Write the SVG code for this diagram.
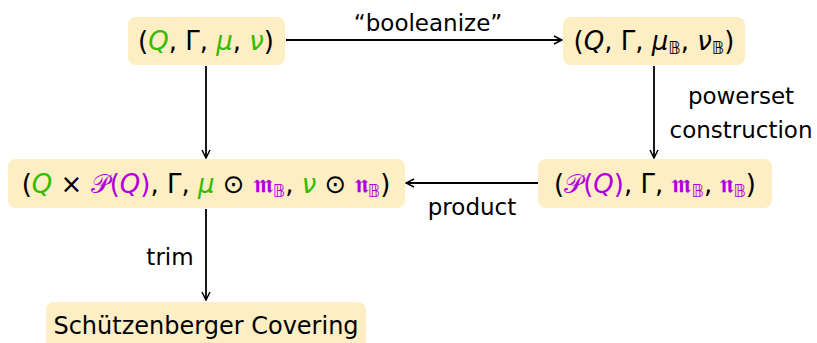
<svg xmlns="http://www.w3.org/2000/svg" width="817" height="343" viewBox="0 0 817 343">
<defs>
<marker id="arr" viewBox="0 0 10 10" refX="9" refY="5" markerWidth="10" markerHeight="10" markerUnits="userSpaceOnUse" orient="auto">
<path d="M1,1 L9,5 L1,9" fill="none" stroke="#000" stroke-width="1.5"/>
</marker>
</defs>
<style>
.box{fill:#fdeec4;}
.m{font-family:"DejaVu Sans","Liberation Sans",sans-serif;font-size:26px;fill:#000;}
.i{font-style:italic;}
.g{fill:#33bb00;}
.p{fill:#b000e0;}
.s{font-family:"DejaVu Sans",sans-serif;font-size:17px;}
.k{fill:#000;}
.lbl{font-family:"DejaVu Sans","Liberation Sans",sans-serif;font-size:23px;fill:#000;}
.c{stroke:#000;stroke-width:1.8;fill:none;marker-end:url(#arr);}
</style>
<g id="connectors">
<line class="c" x1="286" y1="40" x2="562" y2="40"/>
<line class="c" x1="206" y1="66" x2="206" y2="158"/>
<line class="c" x1="654" y1="66" x2="654" y2="158"/>
<line class="c" x1="538" y1="183" x2="406" y2="183"/>
<line class="c" x1="206" y1="209" x2="206" y2="300"/>
<text class="lbl" x="428" y="31" text-anchor="middle">“booleanize”</text>
<text class="lbl" x="741" y="104" text-anchor="middle">powerset</text>
<text class="lbl" x="741" y="138" text-anchor="middle">construction</text>
<text class="lbl" x="472" y="215" text-anchor="middle">product</text>
<text class="lbl" x="170" y="265" text-anchor="middle">trim</text>
</g>
<g id="n1">
<rect class="box" x="128" y="17" width="157" height="48" rx="8"/>
<text class="m" x="206" y="50" text-anchor="middle">(<tspan class="i g">Q</tspan>, Γ, <tspan class="i g">μ</tspan>, <tspan class="i g">ν</tspan>)</text>
</g>
<g id="n2">
<rect class="box" x="563" y="17" width="182" height="48" rx="8"/>
<text class="m" x="654" y="50" text-anchor="middle">(<tspan class="i">Q</tspan>, Γ, <tspan class="i">μ</tspan><tspan class="s k" dy="4">𝔹</tspan><tspan dy="-4">, </tspan><tspan class="i">ν</tspan><tspan class="s k" dy="4">𝔹</tspan><tspan dy="-4">)</tspan></text>
</g>
<g id="n3">
<rect class="box" x="8" y="159" width="397" height="49" rx="8"/>
<text class="m" x="206" y="193" text-anchor="middle">(<tspan class="i g">Q</tspan> × <tspan class="p">𝒫(<tspan class="i">Q</tspan>)</tspan>, Γ, <tspan class="i g">μ</tspan> ⊙ <tspan class="p">𝖒</tspan><tspan class="s p" dy="4">𝔹</tspan><tspan dy="-4">, </tspan><tspan class="i g">ν</tspan> ⊙ <tspan class="p">𝖓</tspan><tspan class="s p" dy="4">𝔹</tspan><tspan dy="-4">)</tspan></text>
</g>
<g id="n4">
<rect class="box" x="538" y="159" width="234" height="49" rx="8"/>
<text class="m" x="655" y="193" text-anchor="middle">(<tspan class="p">𝒫(<tspan class="i">Q</tspan>)</tspan>, Γ, <tspan class="p">𝖒</tspan><tspan class="s p" dy="4">𝔹</tspan><tspan dy="-4">, </tspan><tspan class="p">𝖓</tspan><tspan class="s p" dy="4">𝔹</tspan><tspan dy="-4">)</tspan></text>
</g>
<g id="n5">
<rect class="box" x="46" y="302" width="320" height="49" rx="8"/>
<text class="lbl" x="206" y="334" text-anchor="middle" style="font-size:24px">Schützenberger Covering</text>
</g>
</svg>
